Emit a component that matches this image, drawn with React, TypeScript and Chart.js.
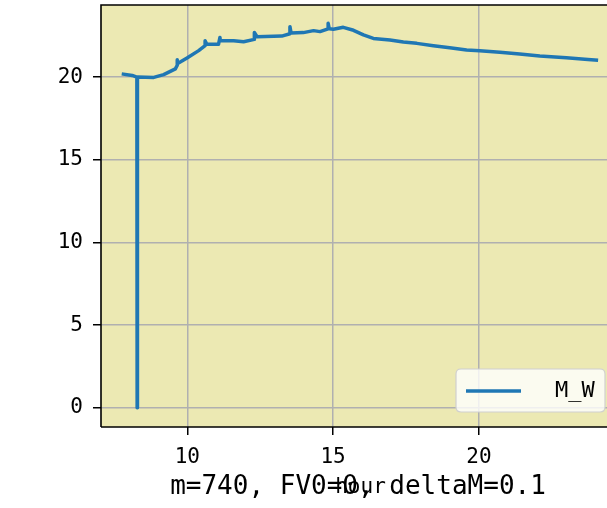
import React, { useEffect, useRef } from "react";
import { Chart, registerables } from "chart.js";

Chart.register(...registerables);

// ---- data ----
const seriesLabel = "M_W";
const hours = [
  7.81, 8.11, 8.27, 8.28, 8.29, 8.85, 9.19, 9.59, 9.65, 9.65, 9.66, 9.99,
  10.39, 10.61, 10.61, 10.67, 11.07, 11.12, 11.13, 11.59, 11.93, 12.3, 12.3,
  12.39, 13.24, 13.52, 13.52, 13.56, 13.98, 14.33, 14.55, 14.83, 14.83, 14.87,
  15.01, 15.35, 15.7, 16.04, 16.38, 16.95, 17.41, 17.87, 18.44, 19.0, 19.58,
  20.03, 20.72, 21.4, 22.09, 23.0, 23.74, 24.03,
];
const mW = [
  20.18, 20.1, 20.0, 0.0, 20.0, 19.98, 20.15, 20.5, 20.7, 21.05, 20.8, 21.15,
  21.6, 21.9, 22.2, 21.98, 21.98, 22.4, 22.2, 22.2, 22.14, 22.28, 22.7,
  22.44, 22.48, 22.62, 23.05, 22.66, 22.69, 22.81, 22.75, 22.92, 23.25, 22.92,
  22.89, 23.01, 22.83, 22.55, 22.34, 22.24, 22.12, 22.04, 21.9, 21.78, 21.64,
  21.6, 21.5, 21.39, 21.27, 21.17, 21.07, 21.03,
];
const xTicks = [10, 15, 20];
const yTicks = [0, 5, 10, 15, 20];
const xRange = [7.04, 24.84];
const yRange = [-1.16, 24.36];
const xTitle = "hour";
const overlayText = "m=740, FV0=0, deltaM=0.1";

const FONT = "'DejaVu Sans Mono', monospace";

const decorPlugin = {
  id: "decor",
  beforeDraw(chart: any) {
    const { ctx, chartArea: a } = chart;
    ctx.save();
    ctx.fillStyle = "#ECE9B3";
    ctx.fillRect(a.left, a.top, a.right - a.left, a.bottom - a.top);
    ctx.restore();
  },
  afterDraw(chart: any) {
    const { ctx, chartArea: a } = chart;
    ctx.save();
    // spines
    ctx.strokeStyle = "#000";
    ctx.lineWidth = 1.6;
    ctx.beginPath();
    ctx.moveTo(a.left, a.bottom);
    ctx.lineTo(a.left, a.top);
    ctx.lineTo(a.right, a.top);
    ctx.moveTo(a.left, a.bottom);
    ctx.lineTo(a.right, a.bottom);
    ctx.stroke();

    // legend
    const ds = chart.data.datasets[0];
    const lx = 456, ly = 369, lw = 149, lh = 43, r = 5;
    ctx.beginPath();
    ctx.moveTo(lx + r, ly);
    ctx.lineTo(lx + lw - r, ly);
    ctx.quadraticCurveTo(lx + lw, ly, lx + lw, ly + r);
    ctx.lineTo(lx + lw, ly + lh - r);
    ctx.quadraticCurveTo(lx + lw, ly + lh, lx + lw - r, ly + lh);
    ctx.lineTo(lx + r, ly + lh);
    ctx.quadraticCurveTo(lx, ly + lh, lx, ly + lh - r);
    ctx.lineTo(lx, ly + r);
    ctx.quadraticCurveTo(lx, ly, lx + r, ly);
    ctx.closePath();
    ctx.fillStyle = "rgba(255,255,255,0.8)";
    ctx.fill();
    ctx.strokeStyle = "#d0d0d0";
    ctx.lineWidth = 1.2;
    ctx.stroke();
    ctx.strokeStyle = ds.borderColor;
    ctx.lineWidth = 3.5;
    ctx.beginPath();
    ctx.moveTo(466, 391);
    ctx.lineTo(521, 391);
    ctx.stroke();
    ctx.fillStyle = "#000";
    ctx.font = `22px ${FONT}`;
    ctx.textAlign = "left";
    ctx.textBaseline = "middle";
    ctx.fillText(ds.label, 555, 391);

    // overlay text
    ctx.font = `26px ${FONT}`;
    ctx.textAlign = "center";
    ctx.textBaseline = "alphabetic";
    ctx.fillText(overlayText, 358, 494);
    ctx.restore();
  },
};

export default function App() {
  const ref = useRef<HTMLCanvasElement | null>(null);
  useEffect(() => {
    if (!ref.current) return;
    const chart = new Chart(ref.current, {
      type: "scatter",
      data: {
        datasets: [
          {
            label: seriesLabel,
            data: hours.map((h, i) => ({ x: h, y: mW[i] })),
            showLine: true,
            borderColor: "#1f77b4",
            backgroundColor: "#1f77b4",
            borderWidth: 3.5,
            borderJoinStyle: "round",
            borderCapStyle: "square",
            pointRadius: 0,
            tension: 0,
          },
        ],
      },
      options: {
        responsive: false,
        animation: false,
        devicePixelRatio: 1,
        layout: { padding: { top: 5, right: 20, left: 0, bottom: 0 } },
        plugins: { legend: { display: false }, tooltip: { enabled: false } },
        scales: {
          x: {
            type: "linear",
            min: xRange[0],
            max: xRange[1],
            afterFit: (s: any) => {
              s.height = 81;
              s.paddingLeft = 0;
              s.paddingRight = 0;
            },
            afterBuildTicks: (s: any) => {
              s.ticks = xTicks.map((v) => ({ value: v }));
            },
            grid: {
              color: "#b0b0b0",
              lineWidth: 1.5,
              tickColor: "#000",
              tickWidth: 1.5,
              tickLength: 8,
            },
            border: { display: false },
            ticks: {
              color: "#000",
              padding: 10,
              maxRotation: 0,
              font: { family: FONT, size: 21 },
            },
            title: {
              display: true,
              text: xTitle,
              color: "#000",
              font: { family: FONT, size: 21 },
              padding: { top: 0, bottom: 8 },
            },
          },
          y: {
            type: "linear",
            min: yRange[0],
            max: yRange[1],
            afterFit: (s: any) => {
              s.width = 101;
              s.paddingTop = 0;
              s.paddingBottom = 0;
            },
            afterBuildTicks: (s: any) => {
              s.ticks = yTicks.map((v) => ({ value: v }));
            },
            grid: {
              color: "#b0b0b0",
              lineWidth: 1.5,
              tickColor: "#000",
              tickWidth: 1.5,
              tickLength: 8,
            },
            border: { display: false },
            ticks: {
              color: "#000",
              padding: 10,
              font: { family: FONT, size: 21 },
            },
          },
        },
      },
      plugins: [decorPlugin],
    } as any);
    return () => chart.destroy();
  }, []);

  return (
    <div
      style={{
        position: "fixed",
        left: 0,
        top: 0,
        width: 607,
        height: 508,
        overflow: "hidden",
        background: "#fff",
      }}
    >
      <canvas ref={ref} width={640} height={508} style={{ width: 640, height: 508, display: "block" }} />
    </div>
  );
}
